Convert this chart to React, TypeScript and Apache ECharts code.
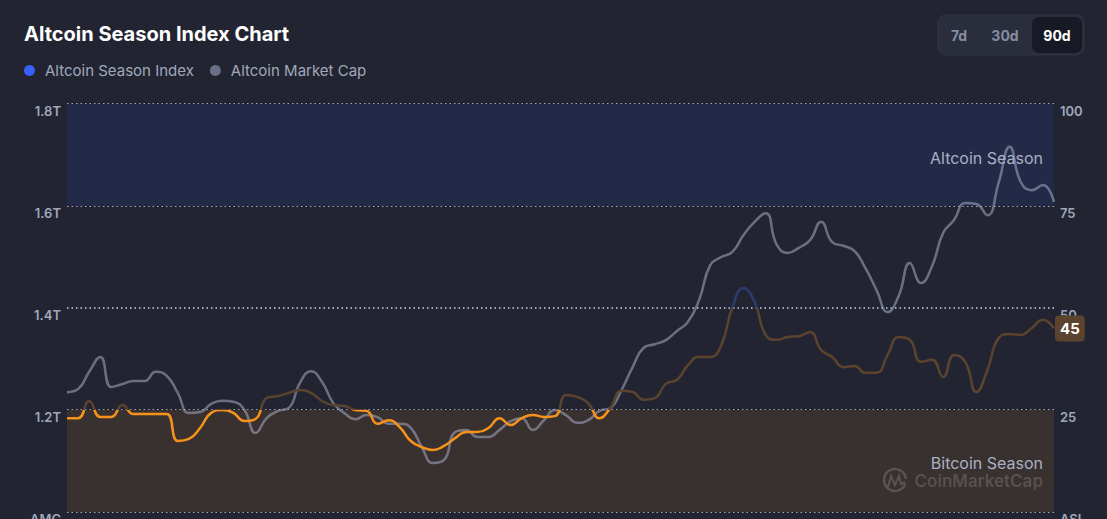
import React, { useEffect, useRef } from "react";
import * as echarts from "echarts";

// Altcoin Market Cap (trillions USD), daily over 90 days
const marketCap: number[] = [
  1.235, 1.241, 1.275, 1.304, 1.245, 1.251, 1.257, 1.257, 1.275, 1.267,
  1.233, 1.194, 1.196, 1.212, 1.218, 1.216, 1.2, 1.155, 1.184, 1.198,
  1.204, 1.253, 1.276, 1.255, 1.214, 1.194, 1.182, 1.19, 1.186, 1.173,
  1.173, 1.165, 1.127, 1.096, 1.102, 1.157, 1.161, 1.147, 1.147, 1.161,
  1.178, 1.184, 1.161, 1.18, 1.2, 1.19, 1.175, 1.18, 1.198, 1.204,
  1.239, 1.284, 1.322, 1.329, 1.337, 1.355, 1.373, 1.416, 1.484, 1.5,
  1.51, 1.543, 1.569, 1.586, 1.524, 1.508, 1.518, 1.533, 1.569, 1.529,
  1.522, 1.512, 1.478, 1.435, 1.392, 1.424, 1.488, 1.449, 1.482, 1.547,
  1.573, 1.606, 1.604, 1.582, 1.645, 1.716, 1.647, 1.631, 1.641, 1.608,
];

// Altcoin Season Index (0-100)
const seasonIndex: number[] = [
  23.0, 23.0, 27.2, 23.3, 23.3, 26.2, 24.0, 24.0, 24.0, 24.0,
  17.4, 17.9, 20.6, 24.3, 25.0, 24.3, 22.3, 22.8, 27.9, 28.4,
  29.2, 29.9, 29.2, 27.2, 26.2, 26.0, 25.0, 24.8, 21.6, 22.5,
  20.8, 17.4, 15.9, 15.2, 16.2, 18.1, 19.6, 19.6, 20.6, 23.0,
  21.3, 23.0, 23.8, 23.3, 23.5, 28.7, 28.2, 26.7, 23.0, 25.5,
  29.7, 29.4, 27.5, 27.9, 31.4, 32.4, 36.0, 38.0, 38.0, 40.9,
  50.2, 54.9, 51.5, 43.4, 42.2, 42.9, 43.1, 44.1, 39.7, 38.0,
  35.5, 35.8, 34.1, 34.1, 38.5, 42.9, 42.2, 36.8, 37.3, 33.1,
  38.5, 36.8, 29.4, 34.8, 42.6, 43.6, 43.4, 45.1, 47.1, 45,
];

const dayLabels: string[] = seasonIndex.map((_, i) => `D${i + 1}`);

const leftTicks = { min: 1.0, max: 1.8, interval: 0.2 };
const rightTicks = { min: 0, max: 100, interval: 25 };
const rangeButtons: string[] = ["7d", "30d", "90d"];

const FONT = "Inter, 'Noto Sans', sans-serif";

export default function App() {
  const ref = useRef<HTMLDivElement>(null);
  useEffect(() => {
    if (!ref.current) return;
    const chart = echarts.init(ref.current, null, { renderer: "svg" });
    const labelStyle = {
      color: "#a1a7bb",
      fontSize: 13,
      fontWeight: 600,
      fontFamily: FONT,
      verticalAlign: "top" as const,
    };
    const btnCenters = [959, 1005, 1057];
    const wm = "rgba(255,255,255,0.16)";
    chart.setOption({
      animation: false,
      backgroundColor: "#222531",
      title: {
        text: "Altcoin Season Index Chart",
        left: 19,
        top: 19,
        textStyle: { color: "#ffffff", fontSize: 20, fontWeight: "bold", fontFamily: FONT },
      },
      legend: {
        left: 19,
        top: 58,
        icon: "circle",
        itemWidth: 11,
        itemHeight: 11,
        itemGap: 16,
        textStyle: { color: "#a1a7bb", fontSize: 15, fontFamily: FONT, padding: [0, 0, 0, 5] },
        data: [
          { name: "Altcoin Season Index", itemStyle: { color: "#3861fb" } },
          { name: "Altcoin Market Cap", itemStyle: { color: "#6b6f85" } },
        ],
      },
      grid: {
        left: 67,
        right: 53,
        top: 104,
        height: 408,
        containLabel: false,
        outerBoundsMode: "none",
      },
      xAxis: {
        type: "category",
        data: dayLabels,
        boundaryGap: false,
        show: false,
      },
      yAxis: [
        {
          type: "value",
          position: "left",
          min: leftTicks.min,
          max: leftTicks.max,
          interval: leftTicks.interval,
          axisLine: { show: false },
          axisTick: { show: false },
          axisLabel: {
            ...labelStyle,
            margin: 6,
            formatter: (v: number) => (v < 1.05 ? "AMC" : v.toFixed(1) + "T"),
          },
          splitLine: {
            show: true,
            lineStyle: { color: "rgba(225,228,238,0.9)", width: 1.5, type: [1.5, 3] },
          },
        },
        {
          type: "value",
          position: "right",
          min: rightTicks.min,
          max: rightTicks.max,
          interval: rightTicks.interval,
          axisLine: { show: false },
          axisTick: { show: false },
          axisLabel: {
            ...labelStyle,
            margin: 6,
            formatter: (v: number) => (v === 0 ? "ASI" : String(v)),
          },
          splitLine: { show: false },
        },
      ],
      visualMap: {
        type: "piecewise",
        show: false,
        seriesIndex: 1,
        dimension: 1,
        pieces: [
          { lte: 25, color: "#f7931a" },
          { gt: 25, lte: 50, color: "#5b432e" },
          { gt: 50, lte: 75, color: "#2c3a70" },
          { gt: 75, color: "#3861fb" },
        ],
      },
      series: [
        {
          name: "Altcoin Market Cap",
          type: "line",
          yAxisIndex: 0,
          data: marketCap,
          smooth: true,
          symbol: "none",
          lineStyle: { color: "rgba(160,166,192,0.58)", width: 2.5 },
          itemStyle: { color: "#6b6f85" },
          markArea: {
            silent: true,
            data: [
              [{ yAxis: 1.0, itemStyle: { color: "#39312f" } }, { yAxis: 1.2 }],
              [{ yAxis: 1.6, itemStyle: { color: "#232a48" } }, { yAxis: 1.8 }],
            ],
          },
          z: 2,
        },
        {
          name: "Altcoin Season Index",
          type: "line",
          yAxisIndex: 1,
          data: seasonIndex,
          smooth: true,
          symbol: "none",
          lineStyle: { width: 2.5 },
          itemStyle: { color: "#3861fb" },
          z: 3,
          endLabel: {
            show: true,
            distance: 1,
            formatter: (p: any) => String(Math.round(p.value)),
            color: "#ffffff",
            fontSize: 15,
            fontWeight: "bold",
            fontFamily: FONT,
            backgroundColor: "#5b432e",
            borderRadius: 4,
            padding: [6, 5, 5, 5],
          },
        },
      ],
      graphic: [
        {
          type: "rect",
          shape: { x: 938, y: 15, width: 146, height: 40, r: 8 },
          style: { fill: "#2a2e3c", stroke: "#303443", lineWidth: 1 },
          silent: true,
          z: 100,
        },
        {
          type: "rect",
          shape: { x: 1032, y: 17, width: 50, height: 36, r: 7 },
          style: { fill: "#171924" },
          silent: true,
          z: 101,
        },
        ...rangeButtons.map((t, i) => ({
          type: "text",
          x: btnCenters[i],
          y: 35,
          style: {
            text: t,
            fill: i === 2 ? "#ffffff" : "#858ca2",
            font: `bold 14px ${FONT}`,
            align: "center",
            verticalAlign: "middle",
          },
          silent: true,
          z: 102,
        })),
        {
          type: "text",
          x: 1043,
          y: 158,
          style: {
            text: "Altcoin Season",
            fill: "#aab0c4",
            font: `16px ${FONT}`,
            align: "right",
            verticalAlign: "middle",
          },
          silent: true,
          z: 100,
        },
        {
          type: "text",
          x: 1043,
          y: 463,
          style: {
            text: "Bitcoin Season",
            fill: "#aab0c4",
            font: `16px ${FONT}`,
            align: "right",
            verticalAlign: "middle",
          },
          silent: true,
          z: 100,
        },
        {
          type: "text",
          x: 1043,
          y: 481,
          style: {
            text: "CoinMarketCap",
            fill: wm,
            font: `600 17px ${FONT}`,
            align: "right",
            verticalAlign: "middle",
          },
          silent: true,
          z: 100,
        },
        {
          type: "arc",
          shape: { cx: 895, cy: 480, r: 11, startAngle: 0.35, endAngle: Math.PI * 2 - 0.1 },
          style: { stroke: wm, lineWidth: 2.5, fill: "none" },
          silent: true,
          z: 100,
        },
        {
          type: "polyline",
          shape: { points: [[888, 487], [891, 476], [895, 485], [899, 476], [901, 484], [905, 482]] },
          style: { stroke: wm, lineWidth: 2.2, fill: "none" },
          silent: true,
          z: 100,
        },
      ],
    });
    return () => chart.dispose();
  }, []);
  return (
    <div
      ref={ref}
      style={{ position: "fixed", left: 0, top: 0, width: 1107, height: 519 }}
    />
  );
}
